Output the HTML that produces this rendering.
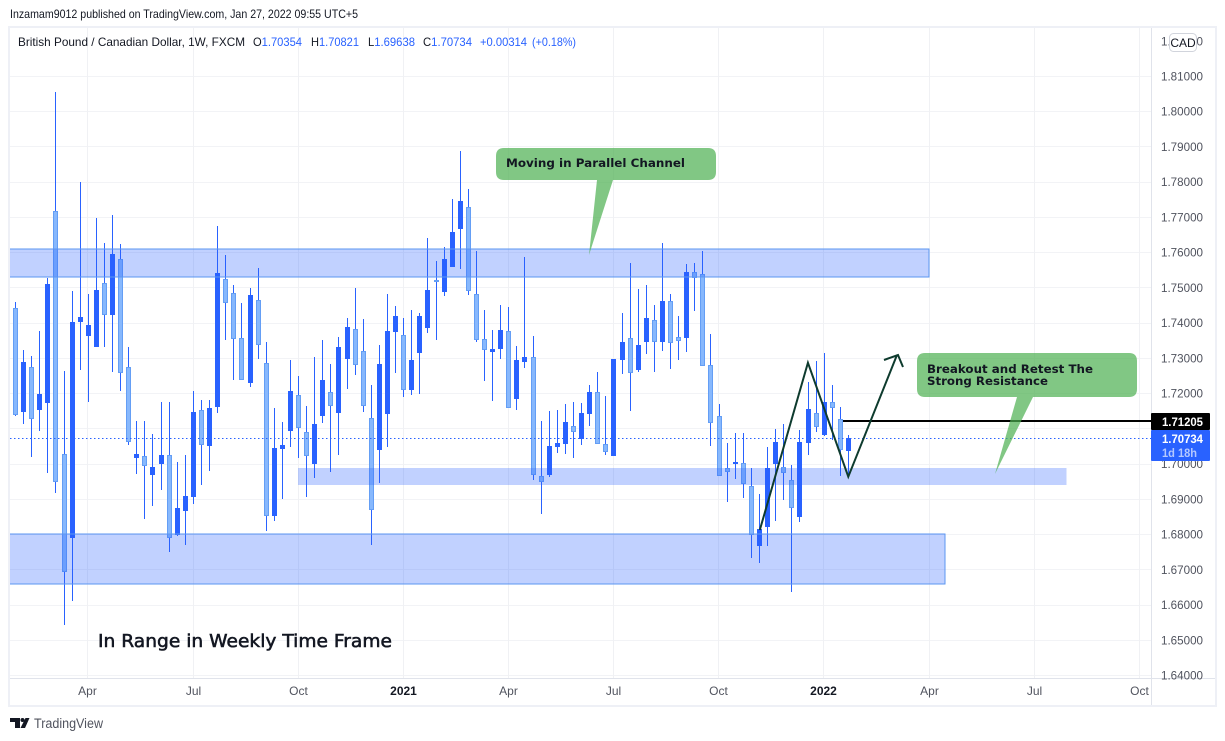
<!DOCTYPE html>
<html lang="en">
<head>
<meta charset="utf-8">
<title>GBP/CAD weekly chart</title>
<style>
html,body{margin:0;padding:0;background:#fff;width:1225px;height:741px;overflow:hidden}
svg{display:block;font-family:"Liberation Sans",sans-serif}
.ax{font-size:12px;fill:#50535e}
.lg{font-size:12px;fill:#131722}
.bl{fill:#2962ff}
.co{font-family:"DejaVu Sans",sans-serif;font-weight:bold;font-size:11.5px;fill:#131722}
</style>
</head>
<body>
<svg id="chart" xmlns="http://www.w3.org/2000/svg" width="1225" height="741" viewBox="0 0 1225 741">
  <rect x="0" y="0" width="1225" height="741" fill="#fff"/>
  <text x="10" y="18" font-size="12" fill="#131722" textLength="348" lengthAdjust="spacingAndGlyphs">Inzamam9012 published on TradingView.com, Jan 27, 2022 09:55 UTC+5</text>
  <rect x="9" y="27" width="1207" height="679" fill="#fff" stroke="#eef0f6" stroke-width="2"/>
  <defs><clipPath id="plotClip"><rect x="10" y="28" width="1141" height="650"/></clipPath></defs>
  <g id="gridLayer"></g>
  <g clip-path="url(#plotClip)">
    <g id="candleLayer"></g>
    <g id="zoneLayer"></g>
    <line id="lastPriceLine" stroke="#2962ff" stroke-width="1" stroke-dasharray="1.5 2.5" shape-rendering="crispEdges"/>
    <line id="resistanceLine" stroke="#000" stroke-width="2" shape-rendering="crispEdges"/>
    <polyline id="zigzag" fill="none" stroke="#0e3b2e" stroke-width="2" stroke-linejoin="miter"/>
    <polyline points="884,360 898,355 903,367" fill="none" stroke="#0e3b2e" stroke-width="2"/>
    <g>
      <path d="M504,148 H708 Q716,148 716,156 V172 Q716,180 708,180 H613 L589,255 L597,180 H504 Q496,180 496,172 V156 Q496,148 504,148 Z" fill="#4caf50" fill-opacity="0.7"/>
      <text class="co" x="506" y="167" textLength="179" lengthAdjust="spacingAndGlyphs">Moving in Parallel Channel</text>
    </g>
    <g>
      <path d="M925,353 H1129 Q1137,353 1137,361 V389 Q1137,397 1129,397 H1033 L995,474 L1017,397 H925 Q917,397 917,389 V361 Q917,353 925,353 Z" fill="#4caf50" fill-opacity="0.7"/>
      <text class="co" x="927" y="373" textLength="166" lengthAdjust="spacingAndGlyphs">Breakout and Retest The</text>
      <text class="co" x="927" y="385" textLength="121" lengthAdjust="spacingAndGlyphs">Strong Resistance</text>
    </g>
    <text x="98" y="647" font-family="DejaVu Sans, sans-serif" font-size="17.5" fill="#131722" stroke="#131722" stroke-width="0.55" textLength="294" lengthAdjust="spacingAndGlyphs">In Range in Weekly Time Frame</text>
  </g>
  <line x1="1151.5" y1="28" x2="1151.5" y2="705" stroke="#e0e3eb"/>
  <line x1="10" y1="678.5" x2="1215" y2="678.5" stroke="#e0e3eb"/>
  <g id="priceAxis"></g>
  <g id="timeAxis"></g>

  <g>
    <text class="lg" x="18" y="46" textLength="227" lengthAdjust="spacingAndGlyphs">British Pound / Canadian Dollar, 1W, FXCM</text>
    <text class="lg" x="253" y="46" textLength="49" lengthAdjust="spacingAndGlyphs">O<tspan class="bl">1.70354</tspan></text>
    <text class="lg" x="311" y="46" textLength="48" lengthAdjust="spacingAndGlyphs">H<tspan class="bl">1.70821</tspan></text>
    <text class="lg" x="368" y="46" textLength="47" lengthAdjust="spacingAndGlyphs">L<tspan class="bl">1.69638</tspan></text>
    <text class="lg" x="423" y="46" textLength="49" lengthAdjust="spacingAndGlyphs">C<tspan class="bl">1.70734</tspan></text>
    <text class="lg bl" x="480" y="46" textLength="47" lengthAdjust="spacingAndGlyphs">+0.00314</text>
    <text class="lg bl" x="532" y="46" textLength="44" lengthAdjust="spacingAndGlyphs">(+0.18%)</text>
  </g>

  <g>
    <rect x="1169.5" y="33.5" width="27" height="18" rx="4" fill="#fff" stroke="#d1d4dc"/>
    <text x="1183" y="47" font-size="12" fill="#131722" text-anchor="middle">CAD</text>
  </g>

  <rect x="1151" y="413" width="59" height="17" rx="1" fill="#000"/>
  <text x="1162" y="426" font-size="12" font-weight="bold" fill="#fff" textLength="41" lengthAdjust="spacingAndGlyphs">1.71205</text>
  <rect x="1151" y="430" width="59" height="31" rx="1" fill="#2962ff"/>
  <text x="1162" y="443" font-size="12" font-weight="bold" fill="#fff" textLength="41" lengthAdjust="spacingAndGlyphs">1.70734</text>
  <text x="1162" y="457" font-size="12" font-weight="bold" fill="#b4c8ff" textLength="35" lengthAdjust="spacingAndGlyphs">1d 18h</text>

  <g>
    <path d="M10,718 H20 V728 H15 V722 H10 Z M25.5,718 H29.5 L25,728 H20.5 Z" fill="#131722"/>
    <circle cx="22.5" cy="720" r="2" fill="#131722"/>
    <text x="34" y="728" font-size="13.5" fill="#50535e" textLength="69" lengthAdjust="spacingAndGlyphs">TradingView</text>
  </g>
</svg>

<script>
// Weekly candles, starting the week of 3 Feb 2020
const opens = [
1.74417,1.71465,1.72734,1.71522,1.71721,1.77160,1.70265,1.67891,1.74020,1.73623,
1.73310,1.75126,1.74227,1.75807,1.72734,1.70160,1.70217,1.69678,1.69990,1.70245,
1.67976,1.68657,1.69054,1.71522,1.70501,1.71607,1.75240,1.74842,1.73566,1.72297,
1.74644,1.72856,1.68515,1.70416,1.70926,1.71948,1.70898,1.69990,1.71352,1.72033,
1.71437,1.72970,1.73821,1.73196,1.71295,1.70387,1.71409,1.73736,1.73651,1.72090,
1.73140,1.73849,1.75211,1.74871,1.75580,1.76658,1.77282,1.74814,1.73537,1.73168,
1.73253,1.73764,1.71834,1.72884,1.73027,1.69650,1.69678,1.70472,1.70557,1.71068,
1.70699,1.71409,1.72033,1.70557,1.70217,1.72941,1.73566,1.72657,1.73452,1.74077,
1.73452,1.74615,1.73594,1.73566,1.75438,1.75381,1.72799,1.71352,1.69877,1.69990,
1.70018,1.69366,1.67663,1.68203,1.69990,1.69905,1.69537,1.68487,1.70586,1.71437,
1.70813,1.71749,1.71267,1.70354];
const highs = [
1.74587,1.73225,1.73055,1.73764,1.75268,1.80546,1.72628,1.74899,1.77992,1.74814,
1.76970,1.76261,1.77055,1.76233,1.73310,1.71210,1.71210,1.70841,1.71749,1.71749,
1.70047,1.70245,1.72061,1.71806,1.71806,1.76743,1.75921,1.75069,1.74559,1.74984,
1.75552,1.73452,1.71579,1.71181,1.72941,1.72487,1.71636,1.73027,1.73509,1.72828,
1.73594,1.74133,1.74984,1.74105,1.72231,1.73367,1.74814,1.74474,1.74133,1.74360,
1.74275,1.76403,1.75750,1.76148,1.77510,1.78872,1.77793,1.76034,1.74360,1.73793,
1.74502,1.74445,1.73338,1.75864,1.73623,1.71210,1.71494,1.71522,1.71692,1.71749,
1.71721,1.72231,1.72600,1.71919,1.72970,1.74275,1.75694,1.74956,1.75069,1.74502,
1.76261,1.74814,1.74190,1.75665,1.75694,1.76034,1.73679,1.71692,1.70586,1.70869,
1.70869,1.69877,1.69139,1.70472,1.70983,1.71125,1.69962,1.70955,1.72316,1.72913,
1.73140,1.72231,1.71607,1.70821];
const lows = [
1.71352,1.71125,1.70197,1.70926,1.69735,1.69168,1.65421,1.66103,1.72657,1.71749,
1.73310,1.73310,1.72600,1.72061,1.70529,1.69706,1.68430,1.68798,1.69253,1.67493,
1.67947,1.67692,1.68855,1.69395,1.69792,1.71437,1.73509,1.72374,1.72374,1.72175,
1.72970,1.68089,1.68373,1.68997,1.70472,1.70160,1.69054,1.69593,1.71153,1.69763,
1.70245,1.72118,1.72515,1.71465,1.67692,1.69452,1.70472,1.72572,1.71891,1.71948,
1.71976,1.73707,1.73509,1.74757,1.75580,1.75523,1.74786,1.73452,1.72345,1.71778,
1.72970,1.71579,1.71522,1.72714,1.69537,1.68572,1.69622,1.70302,1.70274,1.70160,
1.70529,1.71068,1.70557,1.70245,1.70217,1.72544,1.71494,1.72600,1.73111,1.72600,
1.73196,1.72685,1.72941,1.73168,1.74332,1.72771,1.70501,1.69650,1.68912,1.69565,
1.69026,1.67323,1.67181,1.67663,1.68373,1.68969,1.66358,1.68345,1.70245,1.70898,
1.70784,1.70671,1.69650,1.69638];
const closes = [
1.71389,1.72884,1.71258,1.71976,1.75098,1.69488,1.66934,1.74020,1.74162,1.73935,
1.74928,1.74227,1.75949,1.72578,1.70623,1.70274,1.69933,1.69905,1.70245,1.67891,
1.68742,1.69082,1.71465,1.70529,1.71579,1.75410,1.74559,1.73537,1.72374,1.74786,
1.73367,1.68523,1.70444,1.70529,1.72061,1.71012,1.70217,1.71125,1.72374,1.71636,
1.73310,1.73878,1.72799,1.71636,1.68685,1.72828,1.73764,1.74190,1.72090,1.72941,
1.74190,1.74928,1.75155,1.75807,1.76573,1.77453,1.74899,1.73509,1.73225,1.73253,
1.73793,1.71579,1.72941,1.73027,1.69678,1.69480,1.70501,1.70586,1.71181,1.70898,
1.71437,1.72033,1.70557,1.70330,1.72970,1.73452,1.72572,1.73367,1.74133,1.73452,
1.74615,1.73424,1.73480,1.75438,1.75268,1.72771,1.71153,1.69650,1.69763,1.70047,
1.69423,1.67976,1.68146,1.69877,1.70614,1.69735,1.68742,1.70614,1.71551,1.71040,
1.71749,1.71579,1.70387,1.70734];

// Axis tick data
const priceTicks = [1.82,1.81,1.80,1.79,1.78,1.77,1.76,1.75,1.74,1.73,1.72,1.71,1.70,1.69,1.68,1.67,1.66,1.65,1.64];
const timeTickWeeks = [9,22,35,48,61,74,87,100,113,126,139];
const timeTickLabels = ["Apr","Jul","Oct","2021","Apr","Jul","Oct","2022","Apr","Jul","Oct"];
const boldTimeLabels = ["2021","2022"];

// Drawing data (week index / price)
const zoneNames = ["upper-resistance-zone","middle-retest-zone","lower-support-zone"];
const zoneTopPrices = [1.76085,1.69875,1.68];
const zoneBottomPrices = [1.7529,1.6940,1.6659];
const zoneStartWeeks = [-3,35,-3];
const zoneEndWeeks = [113,130,115];
const zoneBorders = [true,false,true];
const pathWeeks = [92.1,98.05,103.04,109.06];
const pathPrices = [1.68117,1.72864,1.69629,1.73083];
const lastPrice = 1.70734;
const resistancePrice = 1.71205;
const resistanceStartWeek = 102.4;

// Scales
function xScale(week){ return 15 + 8.087 * week; }
function yScale(price){ return 76 + (1.81 - price) * 3524; }
function pixelX(week){ return Math.round(xScale(week)); }
function pixelY(price){ return Math.round(yScale(price)); }

const NS = "http://www.w3.org/2000/svg";
function make(parent, tag, attrs, text){
  const el = document.createElementNS(NS, tag);
  for (const k in attrs) el.setAttribute(k, attrs[k]);
  if (text !== undefined) el.textContent = text;
  parent.appendChild(el);
  return el;
}

// Grid and axes
const gridLayer = document.getElementById("gridLayer");
const priceAxis = document.getElementById("priceAxis");
const timeAxis = document.getElementById("timeAxis");

priceTicks.forEach(function(p){
  const y = pixelY(p) + 0.5;
  if (p < 1.815) {
    const g = make(gridLayer, "line", {x1:10, x2:1151, y1:y, y2:y, stroke:"#f2f3f6"});
    
    
  }
  const t = make(priceAxis, "text", {x:1161, y:yScale(p)+4.5, "class":"ax", textLength:42, lengthAdjust:"spacingAndGlyphs"}, p.toFixed(5));
  
  
});

timeTickWeeks.forEach(function(w, i){
  const x = Math.round(xScale(w) - 0.3) + 0.5;
  const g = make(gridLayer, "line", {x1:x, x2:x, y1:28, y2:678, stroke:"#f0f1f4"});
  
  
  const label = timeTickLabels[i];
  const isBold = boldTimeLabels.indexOf(label) >= 0;
  const t = make(timeAxis, "text", {x:x, y:695, "class":"ax", "text-anchor":"middle", "font-weight":isBold?"bold":"normal"}, label);
  if (isBold) t.style.fill = "#131722";
  
  
});

// Candles
const candleLayer = document.getElementById("candleLayer");
opens.forEach(function(o, i){
  const c = closes[i], up = c >= o;
  const x = pixelX(i) + 0.5;
  const g = make(candleLayer, "g", {});
  
  
  const wick = make(g, "line", {x1:x, x2:x, y1:pixelY(highs[i]), y2:pixelY(lows[i]), stroke:"#2962ff", "stroke-width":1, "shape-rendering":"crispEdges"});
  
  
  const top = pixelY(Math.max(o, c)), bot = pixelY(Math.min(o, c));
  const attrs = up
    ? {x:x-2.5, y:top, width:5, height:Math.max(bot-top,1), fill:"#2962ff", "shape-rendering":"crispEdges"}
    : {x:x-2, y:top+0.5, width:4, height:Math.max(bot-top-1,1), fill:"#87b8fd", stroke:"#649ef5", "stroke-width":1, "shape-rendering":"crispEdges"};
  const body = make(g, "rect", attrs);
  
  
});

// Zones
const zoneLayer = document.getElementById("zoneLayer");
zoneNames.forEach(function(name, i){
  const x1 = xScale(zoneStartWeeks[i]), x2 = xScale(zoneEndWeeks[i]);
  const y1 = yScale(zoneTopPrices[i]), y2 = yScale(zoneBottomPrices[i]);
  const attrs = {x:x1, y:y1, width:x2-x1, height:y2-y1, fill:"rgba(41,98,255,0.29)", "shape-rendering":"crispEdges"};
  if (zoneBorders[i]) { attrs.stroke = "#5b96f2"; attrs["stroke-width"] = 1; }
  const z = make(zoneLayer, "rect", attrs);
  
  
});

// Price lines and projected path
const lp = document.getElementById("lastPriceLine");
lp.setAttribute("x1", 10); lp.setAttribute("x2", 1151);
lp.setAttribute("y1", pixelY(lastPrice)+0.5); lp.setAttribute("y2", pixelY(lastPrice)+0.5);
const rl = document.getElementById("resistanceLine");
rl.setAttribute("x1", xScale(resistanceStartWeek)); rl.setAttribute("x2", 1151);
rl.setAttribute("y1", pixelY(resistancePrice)); rl.setAttribute("y2", pixelY(resistancePrice));
document.getElementById("zigzag").setAttribute("points",
  pathWeeks.map(function(w, i){ return xScale(w) + "," + yScale(pathPrices[i]); }).join(" "));
</script>
</body>
</html>
